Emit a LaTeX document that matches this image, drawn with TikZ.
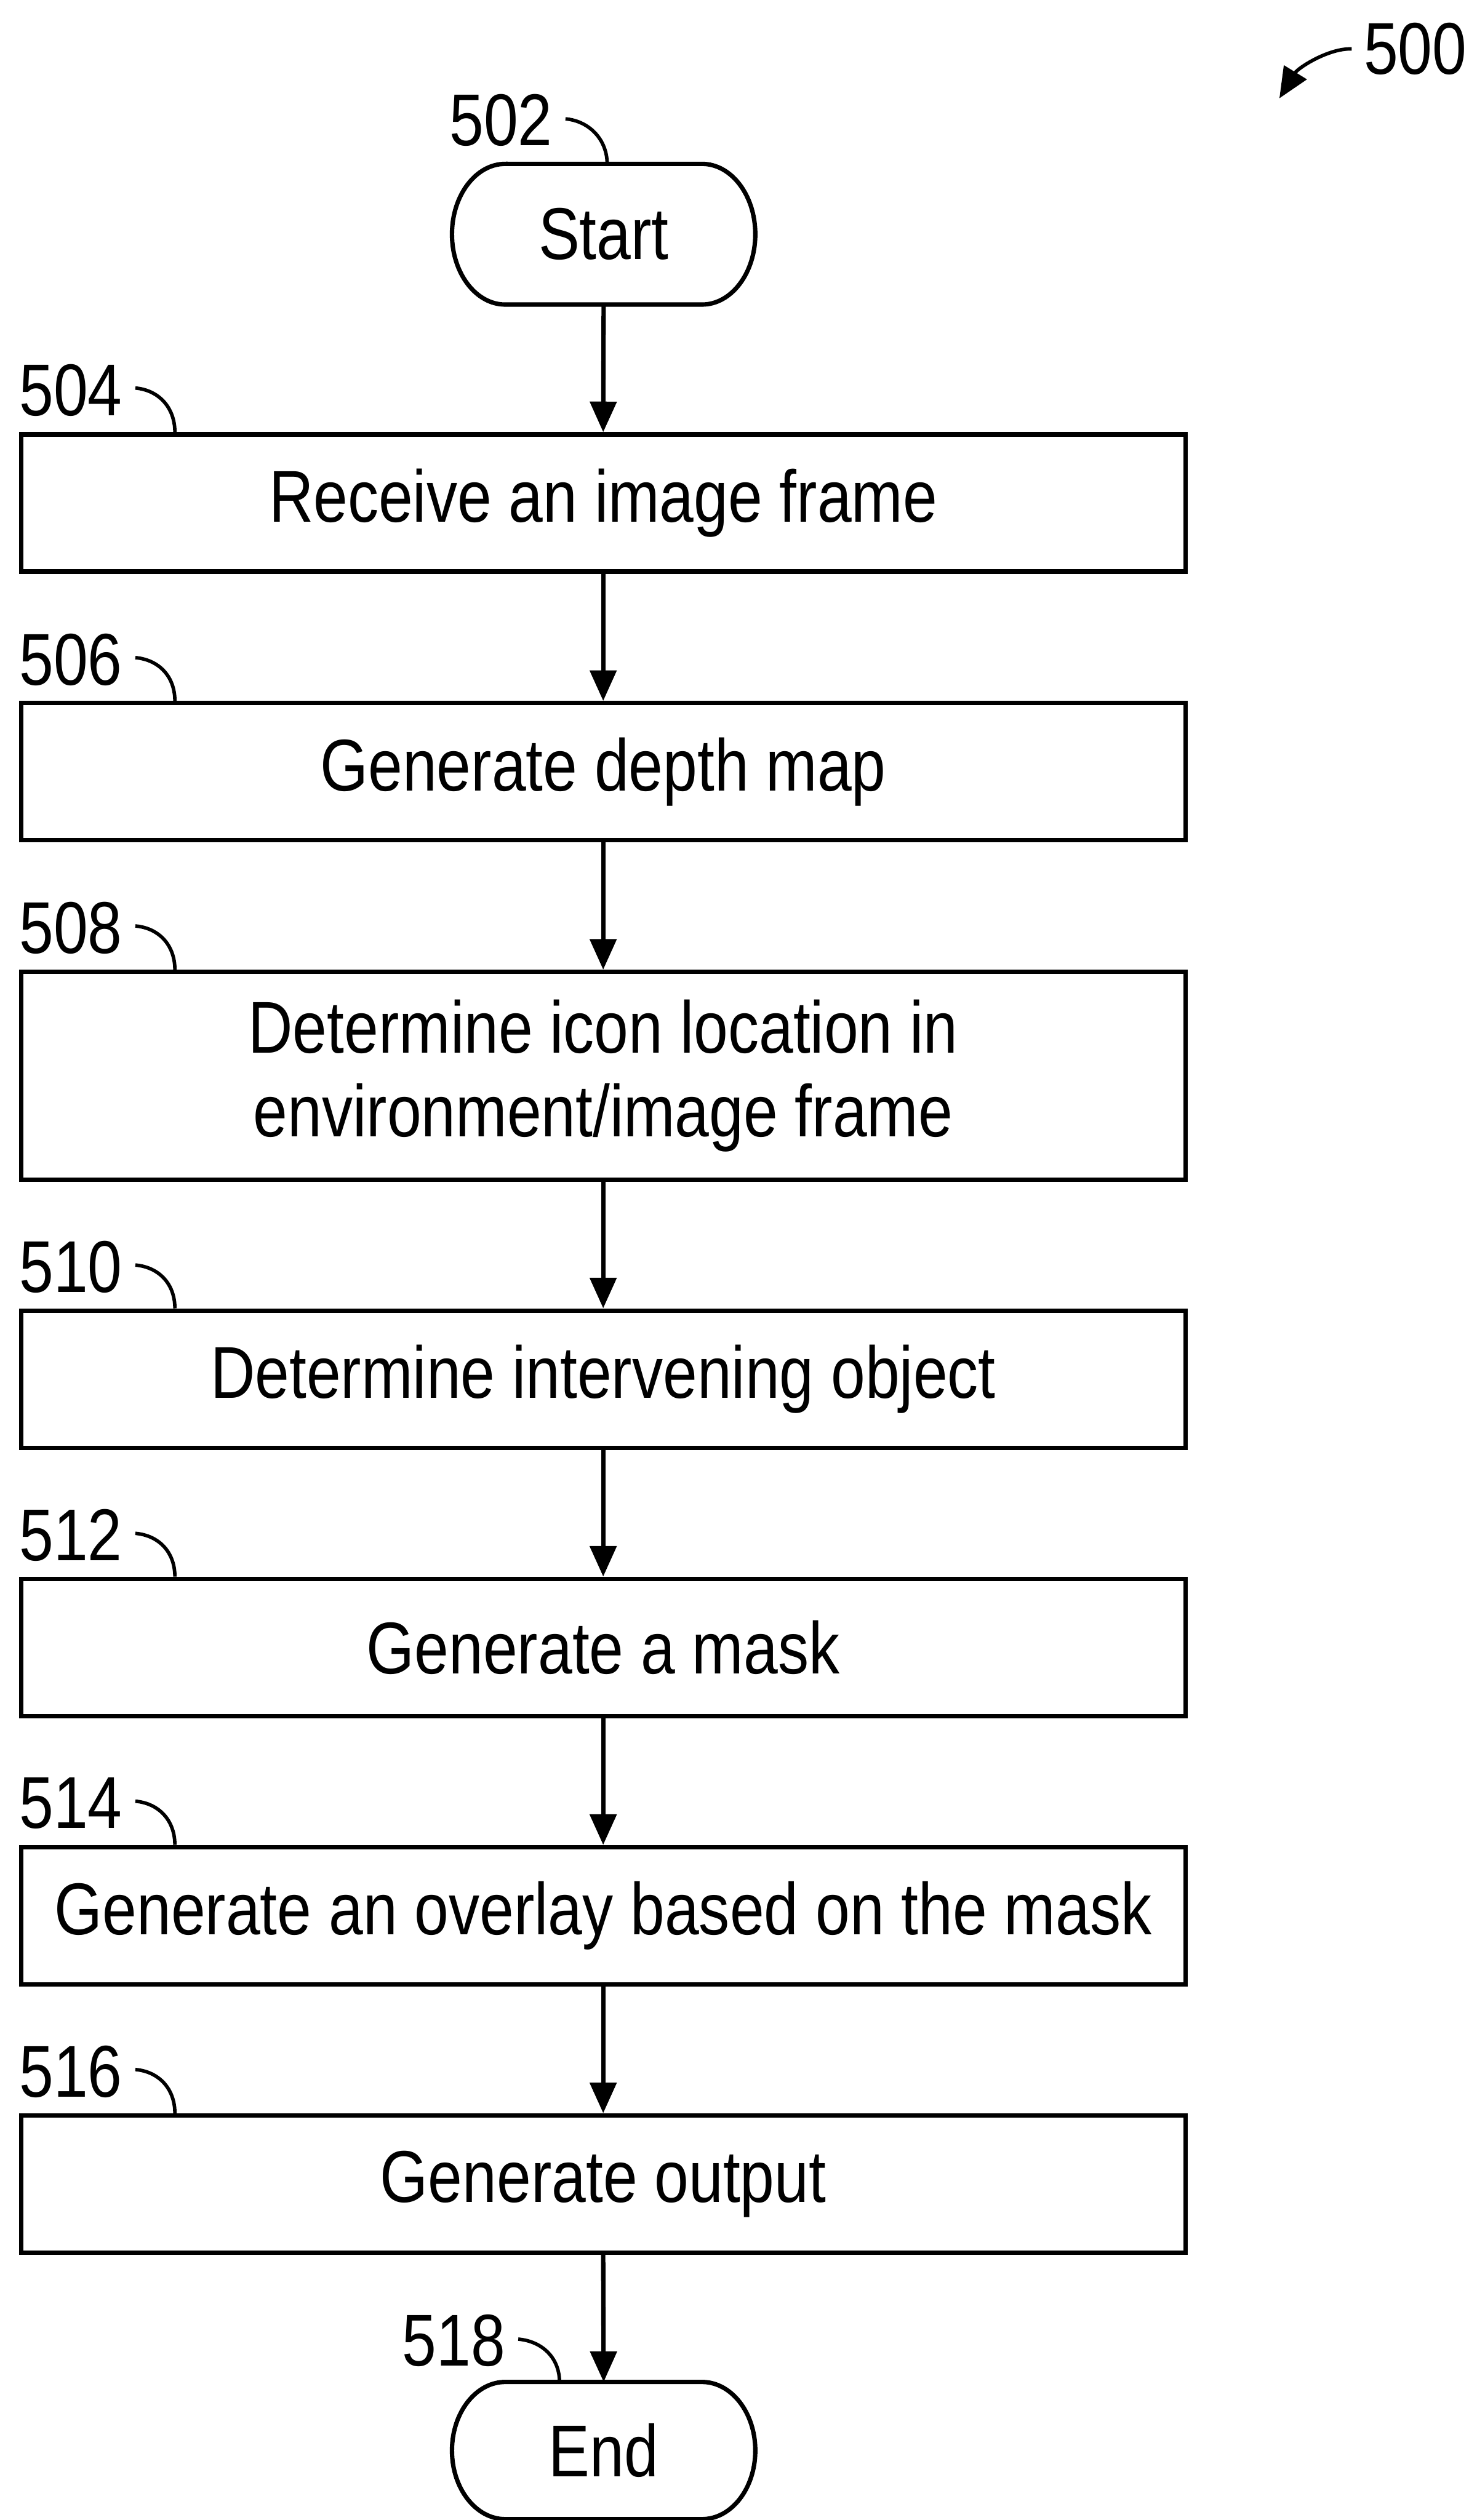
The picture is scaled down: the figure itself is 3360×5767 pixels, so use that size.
\documentclass[tikz,border=0pt]{standalone}
\usepackage{fontspec}
\setmainfont{Liberation Sans}[FakeStretch=0.84]
\usetikzlibrary{arrows.meta,calc}
\begin{document}
\begin{tikzpicture}[x=0.1pt,y=-0.1pt,
  font=\fontsize{16.8}{19.1}\selectfont,
  every node/.style={},
  stepbox/.style={draw,line width=1pt,minimum width=266.4pt,minimum height=31.4pt,inner sep=0pt,align=center},
  term/.style={minimum width=69.4pt,minimum height=32.2pt,inner sep=0pt,outer sep=0pt},
  termline/.style={line width=1pt},
  lbl/.style={inner sep=0pt},
  flow/.style={line width=1pt,-{Triangle[length=7pt,width=6pt]}},
  leader/.style={line width=0.8pt}]
\useasboundingbox (0,0) rectangle (3360,5767);

% terminals
\node[term] (start) at (1381,536) {Start};
\draw[termline] ([xshift=-22.5pt]start.north) -- ([xshift=22.5pt]start.north)
  arc[start angle=90,end angle=-90,x radius=12.2pt,y radius=16.1pt]
  -- ([xshift=-22.5pt]start.south)
  arc[start angle=270,end angle=90,x radius=12.2pt,y radius=16.1pt] -- cycle;

\node[term,minimum height=31.4pt] (end) at (1381,5608) {End};
\draw[termline] ([xshift=-22.5pt]end.north) -- ([xshift=22.5pt]end.north)
  arc[start angle=90,end angle=-90,x radius=12.2pt,y radius=15.7pt]
  -- ([xshift=-22.5pt]end.south)
  arc[start angle=270,end angle=90,x radius=12.2pt,y radius=15.7pt] -- cycle;

% process boxes
\node[stepbox] (b504) at (1380,1151) {Receive an image frame};
\node[stepbox] (b506) at (1380,1766) {Generate depth map};
\node[stepbox,minimum height=47.6pt] (b508) at (1380,2462) {Determine icon location in\\environment/image frame};
\node[stepbox] (b510) at (1380,3156) {Determine intervening object};
\node[stepbox] (b512) at (1380,3770) {Generate a mask};
\node[stepbox] (b514) at (1380,4384) {Generate an overlay based on the mask};
\node[stepbox] (b516) at (1380,4998) {Generate output};

% flow arrows
\draw[flow] (start.south) -- (b504.north);
\draw[flow] (b504.south) -- (b506.north);
\draw[flow] (b506.south) -- (b508.north);
\draw[flow] (b508.south) -- (b510.north);
\draw[flow] (b510.south) -- (b512.north);
\draw[flow] (b512.south) -- (b514.north);
\draw[flow] (b514.south) -- (b516.north);
\draw[flow] (b516.south) -- (end.north);

% reference labels
\node[lbl] (l502) at (1146,275) {502};
\node[lbl] (l504) at (162,893) {504};
\node[lbl] (l506) at (162,1510) {506};
\node[lbl] (l508) at (162,2124) {508};
\node[lbl] (l510) at (162,2900) {510};
\node[lbl] (l512) at (162,3514) {512};
\node[lbl] (l514) at (162,4127) {514};
\node[lbl] (l516) at (162,4741) {516};
\node[lbl] (l518) at (1038,5356) {518};
\node[lbl] (l500) at (3238,112) {500};

% leaders
\foreach \l/\b/\dx in {l502/start/8, l518/end/-101} {
  \draw[leader] ($(\l.east)+(28,-3)$) .. controls ($(\l.east)+(83,2)$) and ($(\b.north)+(\dx,-55)$) .. ($(\b.north)+(\dx,0)$);
}
\foreach \l/\b in {l504/b504, l506/b506, l508/b508, l510/b510, l512/b512, l514/b514, l516/b516} {
  \draw[leader] ($(\l.east)+(28,-5)$) .. controls ($(\l.east)+(83,0)$) and ($(\b.north west)+(357,-55)$) .. ($(\b.north west)+(357,0)$);
}

\coordinate (p500) at (2927,225);
\draw[flow,line width=0.8pt] ($(l500.west)+(-26,0)$) .. controls (3040,110) and (2970,155) .. (p500);
\end{tikzpicture}
\end{document}
